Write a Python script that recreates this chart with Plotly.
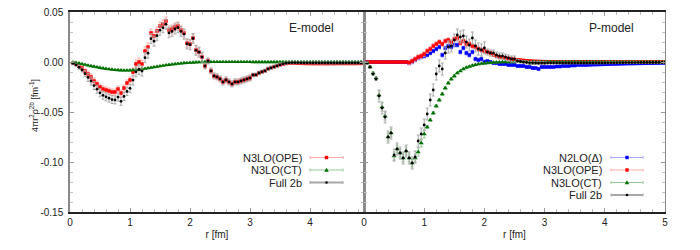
import plotly.graph_objects as go

# ---------------- data ----------------
R = [0.05, 0.10, 0.15, 0.20, 0.25, 0.30, 0.35, 0.40, 0.45, 0.50,
     0.55, 0.60, 0.65, 0.70, 0.75, 0.80, 0.85, 0.90, 0.95, 1.00,
     1.05, 1.10, 1.15, 1.20, 1.25, 1.30, 1.35, 1.40, 1.45, 1.50,
     1.55, 1.60, 1.65, 1.70, 1.75, 1.80, 1.85, 1.90, 1.95, 2.00,
     2.05, 2.10, 2.15, 2.20, 2.25, 2.30, 2.35, 2.40, 2.45, 2.50,
     2.55, 2.60, 2.65, 2.70, 2.75, 2.80, 2.85, 2.90, 2.95, 3.00,
     3.05, 3.10, 3.15, 3.20, 3.25, 3.30, 3.35, 3.40, 3.45, 3.50,
     3.55, 3.60, 3.65, 3.70, 3.75, 3.80, 3.85, 3.90, 3.95, 4.00,
     4.05, 4.10, 4.15, 4.20, 4.25, 4.30, 4.35, 4.40, 4.45, 4.50,
     4.55, 4.60, 4.65, 4.70, 4.75, 4.80, 4.85, 4.90, 4.95, 5.00]

# E-model
E_OPE = [-0.001, -0.002, -0.004, -0.006, -0.009, -0.012, -0.015, -0.019, -0.022, -0.025,
         -0.027, -0.028, -0.029, -0.030, -0.030, -0.027, -0.031, -0.026, -0.021, -0.018,
         -0.010, -0.002, 0.000, -0.002, 0.011, 0.015, 0.029, 0.026, 0.031, 0.036,
         0.038, 0.041, 0.032, 0.033, 0.035, 0.036, 0.032, 0.029, 0.019, 0.018,
         0.024, 0.012, 0.010, 0.005, -0.004, 0.001, -0.009, -0.014, -0.015, -0.017,
         -0.020, -0.018, -0.020, -0.022, -0.020, -0.020, -0.019, -0.018, -0.017, -0.016,
         -0.013, -0.013, -0.011, -0.010, -0.009, -0.007, -0.006, -0.005, -0.004, -0.003,
         -0.002, -0.0015, -0.001, -0.001, -0.001, -0.0012, -0.0013, -0.0014, -0.0015, -0.0015,
         -0.0016, -0.0015, -0.0016, -0.0015, -0.0016, -0.0016, -0.0015, -0.0016, -0.0015, -0.0015,
         -0.0015, -0.0015, -0.0015, -0.0015, -0.0015, -0.0014, -0.0014, -0.0013, -0.0013, -0.0012]
E_OPE_ERR = [0.001, 0.001, 0.0015, 0.0015, 0.002, 0.003, 0.003, 0.003, 0.003, 0.003,
             0.003, 0.003, 0.003, 0.003, 0.003, 0.003, 0.003, 0.003, 0.003, 0.003,
             0.004, 0.004, 0.004, 0.004, 0.004, 0.004, 0.004, 0.004, 0.004, 0.004,
             0.004, 0.004, 0.004, 0.004, 0.004, 0.004, 0.004, 0.004, 0.004, 0.004,
             0.004, 0.004, 0.004, 0.004, 0.0025, 0.0025, 0.0025, 0.0025, 0.0025, 0.0025,
             0.0025, 0.0025, 0.0025, 0.0025, 0.0025, 0.0025, 0.0025, 0.0025, 0.0025, 0.0025,
             0.0015, 0.0015, 0.0015, 0.0015, 0.0015, 0.0015, 0.0015, 0.0015, 0.0015, 0.0015,
             0.0008, 0.0008, 0.0008, 0.0008, 0.0008, 0.0008, 0.0008, 0.0008, 0.0008, 0.0008,
             0.0008, 0.0008, 0.0008, 0.0008, 0.0008, 0.0008, 0.0008, 0.0008, 0.0008, 0.0008,
             0.0008, 0.0008, 0.0008, 0.0008, 0.0008, 0.0008, 0.0008, 0.0008, 0.0008, 0.0008]
E_CT = [-0.0003, -0.0008, -0.0013, -0.0020, -0.0027, -0.0034, -0.0040, -0.0046, -0.0052, -0.0058,
        -0.0063, -0.0068, -0.0072, -0.0076, -0.0079, -0.0081, -0.0083, -0.0084, -0.0084, -0.0083,
        -0.0081, -0.0078, -0.0075, -0.0071, -0.0067, -0.0062, -0.0057, -0.0052, -0.0047, -0.0042,
        -0.0037, -0.0032, -0.0028, -0.0024, -0.0020, -0.0017, -0.0014, -0.0011, -0.0009, -0.0007,
        -0.0005, -0.0003, -0.0002, -0.0001, 0.0, 0.0, 0.0001, 0.0001, 0.0001, 0.0001,
        0.0001, 0.0001, 0.0001, 0.0001, 0.0001, 0.0001, 0.0001, 0.0001, 0.0001, 0.0001,
        0.0, 0.0, 0.0, 0.0, 0.0, 0.0, 0.0, 0.0, 0.0, 0.0,
        0.0, 0.0, 0.0, 0.0, 0.0, 0.0, 0.0, 0.0, 0.0, 0.0,
        0.0, 0.0, 0.0, 0.0, 0.0, 0.0, 0.0, 0.0, 0.0, 0.0,
        0.0, 0.0, 0.0, 0.0, 0.0, 0.0, 0.0, 0.0, 0.0, 0.0]
E_CT_ERR = [0.0003, 0.0003, 0.0004, 0.0004, 0.0005, 0.0005, 0.0005, 0.0005, 0.0005, 0.0005,
            0.0005, 0.0005, 0.0005, 0.0005, 0.0005, 0.0005, 0.0005, 0.0005, 0.0005, 0.0005,
            0.0005, 0.0005, 0.0005, 0.0005, 0.0005, 0.0005, 0.0005, 0.0005, 0.0005, 0.0005,
            0.0004, 0.0004, 0.0004, 0.0004, 0.0004, 0.0004, 0.0004, 0.0004, 0.0004, 0.0004,
            0.0003, 0.0003, 0.0003, 0.0003, 0.0003, 0.0003, 0.0003, 0.0003, 0.0003, 0.0003,
            0.0003, 0.0003, 0.0003, 0.0003, 0.0003, 0.0003, 0.0003, 0.0003, 0.0003, 0.0003,
            0.0003, 0.0003, 0.0003, 0.0003, 0.0003, 0.0003, 0.0003, 0.0003, 0.0003, 0.0003,
            0.0003, 0.0003, 0.0003, 0.0003, 0.0003, 0.0003, 0.0003, 0.0003, 0.0003, 0.0003,
            0.0003, 0.0003, 0.0003, 0.0003, 0.0003, 0.0003, 0.0003, 0.0003, 0.0003, 0.0003,
            0.0003, 0.0003, 0.0003, 0.0003, 0.0003, 0.0003, 0.0003, 0.0003, 0.0003, 0.0003]
E_FULL = [-0.0013, -0.0028, -0.0053, -0.0080, -0.0117, -0.0154, -0.0190, -0.0236, -0.0272, -0.0308,
          -0.0333, -0.0348, -0.0362, -0.0376, -0.0379, -0.0351, -0.0393, -0.0344, -0.0294, -0.0263,
          -0.0181, -0.0098, -0.0075, -0.0091, 0.0043, 0.0088, 0.0233, 0.0208, 0.0263, 0.0318,
          0.0343, 0.0378, 0.0292, 0.0306, 0.0330, 0.0343, 0.0306, 0.0279, 0.0181, 0.0173,
          0.0235, 0.0117, 0.0098, 0.0049, -0.0040, 0.0010, -0.0089, -0.0139, -0.0149, -0.0169,
          -0.0199, -0.0179, -0.0199, -0.0219, -0.0199, -0.0199, -0.0189, -0.0179, -0.0169, -0.0159,
          -0.0130, -0.0128, -0.0110, -0.0098, -0.0088, -0.0068, -0.0058, -0.0048, -0.0038, -0.0028,
          -0.0018, -0.0012, -0.0008, -0.0007, -0.0007, -0.0007, -0.0008, -0.0008, -0.0008, -0.0009,
          -0.0009, -0.0008, -0.0009, -0.0009, -0.0009, -0.0010, -0.0009, -0.0010, -0.0009, -0.0010,
          -0.0010, -0.0009, -0.0010, -0.0009, -0.0010, -0.0009, -0.0009, -0.0009, -0.0008, -0.0008]
E_FULL_ERR = [0.0015, 0.0015, 0.002, 0.002, 0.003, 0.004, 0.004, 0.004, 0.004, 0.004,
              0.004, 0.004, 0.004, 0.004, 0.004, 0.004, 0.004, 0.004, 0.004, 0.004,
              0.005, 0.005, 0.005, 0.005, 0.005, 0.005, 0.005, 0.005, 0.005, 0.005,
              0.005, 0.005, 0.005, 0.005, 0.005, 0.005, 0.005, 0.005, 0.005, 0.005,
              0.005, 0.005, 0.005, 0.005, 0.003, 0.003, 0.003, 0.003, 0.003, 0.003,
              0.003, 0.003, 0.003, 0.003, 0.003, 0.003, 0.003, 0.003, 0.003, 0.003,
              0.0018, 0.0018, 0.0018, 0.0018, 0.0018, 0.0018, 0.0018, 0.0018, 0.0018, 0.0018,
              0.001, 0.001, 0.001, 0.001, 0.001, 0.001, 0.001, 0.001, 0.001, 0.001,
              0.001, 0.001, 0.001, 0.001, 0.001, 0.001, 0.001, 0.001, 0.001, 0.001,
              0.001, 0.001, 0.001, 0.001, 0.001, 0.001, 0.001, 0.001, 0.001, 0.001]

# P-model
P_DELTA = [0.0, 0.0, 0.0, 0.0, 0.0, 0.0, 0.0, 0.0, 0.0, 0.0,
           0.0, 0.0, 0.0, 0.0, -0.001, 0.0, 0.002, 0.004, 0.005, 0.006,
           0.007, 0.009, 0.011, 0.013, 0.015, 0.007, 0.014, 0.016, 0.015, 0.017,
           0.017, 0.010, 0.014, 0.009, 0.007, 0.010, 0.003, 0.002, 0.003, 0.000,
           0.001, 0.000, -0.001, -0.001, -0.002, -0.002, -0.002, -0.003, -0.003, -0.003,
           -0.004, -0.004, -0.004, -0.005, -0.005, -0.006, -0.006, -0.007, -0.005, -0.005,
           -0.005, -0.005, -0.005, -0.0045, -0.0045, -0.004, -0.004, -0.004, -0.0035, -0.0035,
           -0.003, -0.003, -0.003, -0.003, -0.0028, -0.0027, -0.0026, -0.0025, -0.0024, -0.0023,
           -0.0022, -0.0021, -0.002, -0.002, -0.0019, -0.0018, -0.0017, -0.0016, -0.0016, -0.0015,
           -0.0014, -0.0014, -0.0013, -0.0013, -0.0012, -0.0012, -0.0011, -0.0011, -0.001, -0.001]
P_DELTA_ERR = [0.0005, 0.0005, 0.0005, 0.0005, 0.0005, 0.0005, 0.0005, 0.0005, 0.0005, 0.0005,
               0.0005, 0.0005, 0.0005, 0.0005, 0.002, 0.002, 0.002, 0.002, 0.002, 0.002,
               0.002, 0.002, 0.002, 0.002, 0.002, 0.002, 0.002, 0.002, 0.002, 0.002,
               0.002, 0.002, 0.002, 0.002, 0.002, 0.002, 0.002, 0.002, 0.002, 0.002,
               0.0012, 0.0012, 0.0012, 0.0012, 0.0012, 0.0012, 0.0012, 0.0012, 0.0012, 0.0012,
               0.0012, 0.0012, 0.0012, 0.0012, 0.0012, 0.0012, 0.0012, 0.0012, 0.0012, 0.0012,
               0.0008, 0.0008, 0.0008, 0.0008, 0.0008, 0.0008, 0.0008, 0.0008, 0.0008, 0.0008,
               0.0008, 0.0008, 0.0008, 0.0008, 0.0008, 0.0008, 0.0008, 0.0008, 0.0008, 0.0008,
               0.0008, 0.0008, 0.0008, 0.0008, 0.0008, 0.0008, 0.0008, 0.0008, 0.0008, 0.0008,
               0.0008, 0.0008, 0.0008, 0.0008, 0.0008, 0.0008, 0.0008, 0.0008, 0.0008, 0.0008]
P_OPE = [0.0, 0.0, 0.0, 0.0, 0.0, 0.0, 0.0, 0.0, 0.0, 0.0,
         0.0, 0.0, 0.0, 0.0, -0.0005, 0.001, 0.003, 0.005, 0.006, 0.008,
         0.011, 0.013, 0.016, 0.018, 0.020, 0.018, 0.021, 0.022, 0.020, 0.023,
         0.024, 0.019, 0.021, 0.018, 0.018, 0.016, 0.015, 0.013, 0.012, 0.011,
         0.010, 0.009, 0.007, 0.006, 0.005, 0.0045, 0.004, 0.0035, 0.003, 0.0025,
         0.002, 0.002, 0.0015, 0.0012, 0.001, 0.0008, 0.0006, 0.0005, 0.0004, 0.0003,
         0.0003, 0.0003, 0.0003, 0.0003, 0.0003, 0.0002, 0.0002, 0.0002, 0.0002, 0.0002,
         0.0002, 0.0002, 0.0002, 0.0002, 0.0002, 0.0002, 0.0002, 0.0002, 0.0002, 0.0002,
         0.0001, 0.0001, 0.0001, 0.0001, 0.0001, 0.0001, 0.0001, 0.0001, 0.0001, 0.0001,
         0.0001, 0.0001, 0.0001, 0.0001, 0.0001, 0.0001, 0.0001, 0.0001, 0.0001, 0.0001]
P_OPE_ERR = [0.0005, 0.0005, 0.0005, 0.0005, 0.0005, 0.0005, 0.0005, 0.0005, 0.0005, 0.0005,
             0.0005, 0.0005, 0.0005, 0.0005, 0.0022, 0.0022, 0.0022, 0.0022, 0.0022, 0.0022,
             0.0022, 0.0022, 0.0022, 0.0022, 0.0022, 0.0022, 0.0022, 0.0022, 0.0022, 0.0022,
             0.0022, 0.0022, 0.0022, 0.0022, 0.0022, 0.0022, 0.0022, 0.0022, 0.0022, 0.0022,
             0.0012, 0.0012, 0.0012, 0.0012, 0.0012, 0.0012, 0.0012, 0.0012, 0.0012, 0.0012,
             0.0012, 0.0012, 0.0012, 0.0012, 0.0012, 0.0012, 0.0012, 0.0012, 0.0012, 0.0012,
             0.0006, 0.0006, 0.0006, 0.0006, 0.0006, 0.0006, 0.0006, 0.0006, 0.0006, 0.0006,
             0.0006, 0.0006, 0.0006, 0.0006, 0.0006, 0.0006, 0.0006, 0.0006, 0.0006, 0.0006,
             0.0006, 0.0006, 0.0006, 0.0006, 0.0006, 0.0006, 0.0006, 0.0006, 0.0006, 0.0006,
             0.0006, 0.0006, 0.0006, 0.0006, 0.0006, 0.0006, 0.0006, 0.0006, 0.0006, 0.0006]
P_CT = [-0.001, -0.005, -0.011, -0.016, -0.033, -0.045, -0.054, -0.075, -0.071, -0.094,
        -0.087, -0.091, -0.096, -0.089, -0.096, -0.101, -0.096, -0.090, -0.081, -0.072,
        -0.065, -0.058, -0.051, -0.044, -0.038, -0.032, -0.026, -0.021, -0.017, -0.014,
        -0.011, -0.009, -0.007, -0.0055, -0.0045, -0.0035, -0.0028, -0.0022, -0.0017, -0.0013,
        -0.001, -0.0007, -0.0005, -0.0003, -0.0002, -0.0001, 0.0, 0.0, 0.0, 0.0,
        0.0001, 0.0001, 0.0001, 0.0001, 0.0001, 0.0001, 0.0001, 0.0001, 0.0001, 0.0001,
        0.0001, 0.0001, 0.0001, 0.0001, 0.0001, 0.0001, 0.0001, 0.0001, 0.0001, 0.0001,
        0.0, 0.0, 0.0, 0.0, 0.0, 0.0, 0.0, 0.0, 0.0, 0.0,
        0.0, 0.0, 0.0, 0.0, 0.0, 0.0, 0.0, 0.0, 0.0, 0.0,
        0.0, 0.0, 0.0, 0.0, 0.0, 0.0, 0.0, 0.0, 0.0, 0.0]
P_CT_ERR = [0.001, 0.001, 0.001, 0.001, 0.004, 0.004, 0.004, 0.004, 0.004, 0.004,
            0.004, 0.004, 0.004, 0.004, 0.004, 0.004, 0.004, 0.004, 0.004, 0.004,
            0.0015, 0.0015, 0.0015, 0.0015, 0.0015, 0.0015, 0.0015, 0.0015, 0.0015, 0.0015,
            0.0005, 0.0005, 0.0005, 0.0005, 0.0005, 0.0005, 0.0005, 0.0005, 0.0005, 0.0005,
            0.0005, 0.0005, 0.0005, 0.0005, 0.0005, 0.0005, 0.0005, 0.0005, 0.0005, 0.0005,
            0.0005, 0.0005, 0.0005, 0.0005, 0.0005, 0.0005, 0.0005, 0.0005, 0.0005, 0.0005,
            0.0005, 0.0005, 0.0005, 0.0005, 0.0005, 0.0005, 0.0005, 0.0005, 0.0005, 0.0005,
            0.0005, 0.0005, 0.0005, 0.0005, 0.0005, 0.0005, 0.0005, 0.0005, 0.0005, 0.0005,
            0.0005, 0.0005, 0.0005, 0.0005, 0.0005, 0.0005, 0.0005, 0.0005, 0.0005, 0.0005,
            0.0005, 0.0005, 0.0005, 0.0005, 0.0005, 0.0005, 0.0005, 0.0005, 0.0005, 0.0005]
P_FULL = [-0.001, -0.005, -0.012, -0.017, -0.034, -0.046, -0.055, -0.075, -0.071, -0.093,
          -0.087, -0.091, -0.096, -0.089, -0.096, -0.101, -0.095, -0.079, -0.072, -0.063,
          -0.052, -0.038, -0.028, -0.012, -0.004, -0.007, 0.009, 0.015, 0.016, 0.022,
          0.027, 0.025, 0.026, 0.020, 0.017, 0.024, 0.016, 0.013, 0.012, 0.014,
          0.010, 0.009, 0.009, 0.007, 0.006, 0.006, 0.005, 0.004, 0.003, 0.003,
          0.001, 0.0005, 0.0, -0.0005, -0.001, -0.001, -0.001, -0.0012, -0.001, -0.001,
          -0.001, -0.001, -0.001, -0.001, -0.001, -0.001, -0.001, -0.001, -0.001, -0.001,
          -0.001, -0.001, -0.001, -0.001, -0.001, -0.001, -0.001, -0.001, -0.001, -0.001,
          -0.0008, -0.0008, -0.0008, -0.0007, -0.0007, -0.0007, -0.0006, -0.0006, -0.0006, -0.0006,
          -0.0005, -0.0005, -0.0005, -0.0005, -0.0005, -0.0005, -0.0005, -0.0005, -0.0005, -0.0005]
P_FULL_ERR = [0.0015, 0.0015, 0.0015, 0.0015, 0.006, 0.006, 0.006, 0.006, 0.006, 0.006,
              0.006, 0.006, 0.006, 0.006, 0.006, 0.006, 0.006, 0.006, 0.006, 0.006,
              0.006, 0.006, 0.006, 0.006, 0.006, 0.006, 0.006, 0.006, 0.006, 0.006,
              0.006, 0.006, 0.006, 0.006, 0.006, 0.006, 0.006, 0.006, 0.006, 0.006,
              0.003, 0.003, 0.003, 0.003, 0.003, 0.003, 0.003, 0.003, 0.003, 0.003,
              0.0015, 0.0015, 0.0015, 0.0015, 0.0015, 0.0015, 0.0015, 0.0015, 0.0015, 0.0015,
              0.0008, 0.0008, 0.0008, 0.0008, 0.0008, 0.0008, 0.0008, 0.0008, 0.0008, 0.0008,
              0.0008, 0.0008, 0.0008, 0.0008, 0.0008, 0.0008, 0.0008, 0.0008, 0.0008, 0.0008,
              0.0008, 0.0008, 0.0008, 0.0008, 0.0008, 0.0008, 0.0008, 0.0008, 0.0008, 0.0008,
              0.0008, 0.0008, 0.0008, 0.0008, 0.0008, 0.0008, 0.0008, 0.0008, 0.0008, 0.0008]

Y_TICKS = [0.05, 0.0, -0.05, -0.10, -0.15]
Y_TICKTEXT = ["0.05", "0.00", "-0.05", "-0.10", "-0.15"]
XL_TICKS = [0, 1, 2, 3, 4]
XR_TICKS = [0, 1, 2, 3, 4, 5]

LEFT_LEGEND = ["N3LO(OPE)", "N3LO(CT)", "Full 2b"]
RIGHT_LEGEND = ["N2LO(\u0394)", "N3LO(OPE)", "N3LO(CT)", "Full 2b"]

# ---------------- styles ----------------
FONT = "Liberation Sans, Arial, sans-serif"
TXT = "#222222"
RED, RED_E = "#ff0000", "#ffaaaa"
GREEN, GREEN_E = "#007000", "#99c899"
BLACK, BLACK_E = "#000000", "#a8a8a8"
BLUE, BLUE_E = "#0000ff", "#aaaaff"

# the page adds an 8px body margin, so the figure is drawn 8px smaller
OFF = 8
W, H = 700 - OFF, 250 - OFF
ML, MT = 70 - OFF, 12 - OFF
PW, PH = 595, 200
MR, MB = W - ML - PW, H - MT - PH
SPLIT = (364 - 70) / PW

fig = go.Figure()


def add(xa, ya, y, err, color, ecolor, symbol, size, name):
    fig.add_trace(go.Scatter(
        x=R, y=y, mode="markers", name=name, showlegend=False,
        xaxis=xa, yaxis=ya,
        marker=dict(color=color, symbol=symbol, size=size, line=dict(width=0)),
        error_y=dict(type="data", array=err, color=ecolor, thickness=1, width=1.5),
    ))


add("x", "y", E_OPE, E_OPE_ERR, RED, RED_E, "square", 3.5, "N3LO(OPE)")
add("x", "y", E_CT, E_CT_ERR, GREEN, GREEN_E, "triangle-up", 4.5, "N3LO(CT)")
add("x", "y", E_FULL, E_FULL_ERR, BLACK, BLACK_E, "circle", 2.8, "Full 2b")

add("x2", "y2", P_DELTA, P_DELTA_ERR, BLUE, BLUE_E, "square", 3.5, "N2LO(\u0394)")
add("x2", "y2", P_OPE, P_OPE_ERR, RED, RED_E, "square", 3.5, "N3LO(OPE)")
add("x2", "y2", P_CT, P_CT_ERR, GREEN, GREEN_E, "triangle-up", 4.5, "N3LO(CT)")
add("x2", "y2", P_FULL, P_FULL_ERR, BLACK, BLACK_E, "circle", 2.8, "Full 2b")

xcommon = dict(
    ticks="inside", ticklen=4, tickcolor="#999999", tickwidth=1,
    minor=dict(dtick=0.2, tick0=0, ticks="inside", ticklen=3, tickcolor="#bbbbbb"),
    showline=True, linecolor="#222222", linewidth=1.5, mirror="allticks",
    showgrid=False, zeroline=False, automargin=False, ticklabeloverflow="allow",
    tickfont=dict(size=10, color=TXT, family=FONT),
    title=dict(text="r [fm]", font=dict(size=10, color=TXT, family=FONT), standoff=4),
)
ycommon = dict(
    range=[-0.15, 0.05], tickvals=Y_TICKS, ticktext=Y_TICKTEXT,
    ticks="inside", ticklen=4, tickcolor="#999999", tickwidth=1,
    minor=dict(dtick=0.01, tick0=0, ticks="inside", ticklen=3, tickcolor="#c4c4c4"),
    showline=True, linecolor="#8a8a8a", mirror="allticks",
    showgrid=False, zeroline=False, automargin=False, ticklabeloverflow="allow",
    tickfont=dict(size=10, color=TXT, family=FONT),
)

fig.update_layout(
    width=W, height=H, margin=dict(l=ML, r=MR, t=MT, b=MB, autoexpand=False),
    paper_bgcolor="white", plot_bgcolor="white",
    font=dict(family=FONT, size=10, color=TXT),
    showlegend=False,
    xaxis=dict(domain=[0, SPLIT], range=[0, 4.9], tickvals=XL_TICKS, anchor="y", **xcommon),
    xaxis2=dict(domain=[SPLIT, 1], range=[0, 5], tickvals=XR_TICKS, anchor="y2", **xcommon),
    yaxis=dict(domain=[0, 1], anchor="x", ticklabelstandoff=3, linewidth=1.5, **ycommon),
    yaxis2=dict(domain=[0, 1], anchor="x2", showticklabels=False, linewidth=1, **ycommon),
)


# helpers that convert target-image pixel positions into paper coordinates
def px_x(px):
    return (px - 70) / PW


def px_y(py):
    return (212 - py) / PH


annotations = [
    dict(text="4\u03c0r<sup>2</sup>\u03c1<sup>2b</sup> [fm<sup>-1</sup>]", textangle=-90,
         xref="paper", yref="paper", x=px_x(34), y=px_y(106), xanchor="center", yanchor="middle",
         showarrow=False, font=dict(size=9, color=TXT, family=FONT)),
    dict(text="E-model", xref="paper", yref="paper", x=px_x(336), y=px_y(28),
         xanchor="right", yanchor="middle", showarrow=False,
         font=dict(size=12, color=TXT, family=FONT)),
    dict(text="P-model", xref="paper", yref="paper", x=px_x(636), y=px_y(28),
         xanchor="right", yanchor="middle", showarrow=False,
         font=dict(size=12, color=TXT, family=FONT)),
]
shapes = []


def legend_entry(label, text_right, x1, x2, py, color, ecolor, symbol, lw=1):
    annotations.append(dict(text=label, xref="paper", yref="paper", x=px_x(text_right), y=px_y(py),
                            xanchor="right", yanchor="middle", showarrow=False, borderpad=0,
                            font=dict(size=11, color=TXT, family=FONT)))
    shapes.append(dict(type="line", xref="paper", yref="paper", x0=px_x(x1), x1=px_x(x2),
                       y0=px_y(py), y1=px_y(py), line=dict(color=ecolor, width=lw)))
    for xx in (x1, x2):
        shapes.append(dict(type="line", xref="paper", yref="paper", x0=px_x(xx), x1=px_x(xx),
                           y0=px_y(py - 1.5), y1=px_y(py + 1.5), line=dict(color=ecolor, width=1)))
    xm = (x1 + x2) / 2
    if symbol == "square":
        shapes.append(dict(type="rect", xref="paper", yref="paper", x0=px_x(xm - 1.7), x1=px_x(xm + 1.7),
                           y0=px_y(py - 1.7), y1=px_y(py + 1.7), fillcolor=color, line=dict(width=0)))
    elif symbol == "triangle":
        path = "M {} {} L {} {} L {} {} Z".format(px_x(xm - 2.3), px_y(py + 1.8), px_x(xm + 2.3), px_y(py + 1.8),
                                                  px_x(xm), px_y(py - 2.3))
        shapes.append(dict(type="path", xref="paper", yref="paper", path=path, fillcolor=color, line=dict(width=0)))
    else:
        shapes.append(dict(type="circle", xref="paper", yref="paper", x0=px_x(xm - 1.3), x1=px_x(xm + 1.3),
                           y0=px_y(py - 1.3), y1=px_y(py + 1.3), fillcolor=color, line=dict(width=0)))


LEFT_STYLE = [(RED, RED_E, "square", 1), (GREEN, GREEN_E, "triangle", 1), (BLACK, BLACK_E, "circle", 2)]
RIGHT_STYLE = [(BLUE, BLUE_E, "square", 1), (RED, RED_E, "square", 1),
               (GREEN, GREEN_E, "triangle", 1), (BLACK, BLACK_E, "circle", 2)]
ROWS = [157.5, 170, 182.5, 195]

for i, lab in enumerate(LEFT_LEGEND):
    c, e, s, lw = LEFT_STYLE[i]
    legend_entry(lab, 303, 310, 343, ROWS[i], c, e, s, lw)
for i, lab in enumerate(RIGHT_LEGEND):
    c, e, s, lw = RIGHT_STYLE[i]
    legend_entry(lab, 603, 611, 643, ROWS[i], c, e, s, lw)

fig.update_layout(annotations=annotations, shapes=shapes)

fig.write_html("out.html")
